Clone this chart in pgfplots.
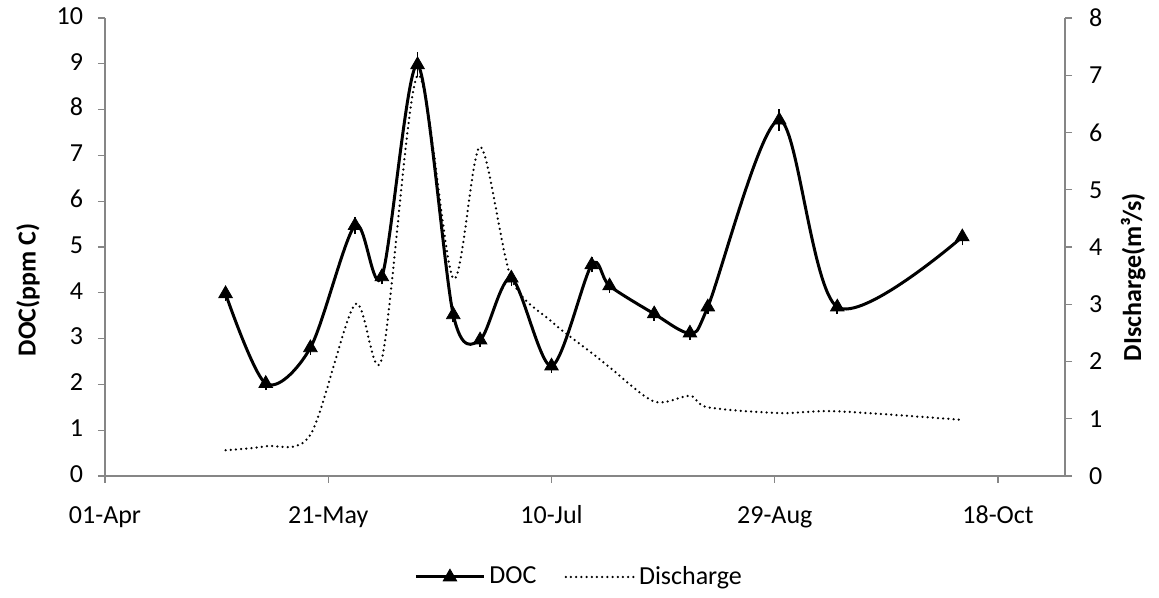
\documentclass[border=0pt]{standalone}
\usepackage{fontspec}
\setmainfont{Carlito}
\usepackage{pgfplots}
\usepackage{pgfplotstable}
\pgfplotsset{compat=1.18}
\definecolor{axisgray}{HTML}{868686}

\begin{document}
\fontsize{13pt}{15.6pt}\selectfont
\begin{tikzpicture}
\useasboundingbox (-52.5pt,-61pt) rectangle (527pt,238pt);
\pgfplotsset{
  every axis/.append style={
    scale only axis, width=480pt, height=229pt,
    xmin=0, xmax=215,
    axis line style={axisgray, line width=0.6pt},
    every tick/.style={axisgray, line width=0.6pt},
    tick align=outside, major tick length=3.5pt,
    /pgf/number format/assume math mode=true,
    clip=false,
    legend image code/.code={
      \draw[mark repeat=2, mark phase=2, #1]
        plot coordinates {(0pt,0pt) (17pt,0pt) (34pt,0pt)};},
  },
  docmark/.style={mark=triangle*, mark size=3.9pt,
    mark options={solid, fill=black, draw=black, line width=0.4pt}},
}
% DOC concentration, left axis (days counted from 01-Apr)
\pgfplotstableread{
day doc err
27  3.98 0.04
36  2.02 0.03
46  2.80 0.04
56  5.47 0.07
62  4.35 0.05
70  8.98 0.16
78  3.52 0.05
84  2.97 0.04
91  4.32 0.05
100 2.40 0.03
109 4.61 0.05
113 4.15 0.04
123 3.54 0.04
131 3.12 0.04
135 3.69 0.05
151 7.77 0.12
164 3.69 0.04
192 5.22 0.07
}\doctable
\begin{axis}[
  axis x line*=bottom, axis y line*=left,
  ymin=0, ymax=10, ytick={0,1,...,10},
  xtick={0,50,100,150,200},
  xticklabels={01-Apr,21-May,10-Jul,29-Aug,18-Oct},
  typeset ticklabels with strut,
  xticklabel style={yshift=-5pt},
  yticklabel style={xshift=-3pt},
  every axis y label/.style={at={(axis description cs:-0.0802,0.406)},
    rotate=90, anchor=center, font=\bfseries},
  ylabel={DOC(ppm C)},
]
\addplot[black, line width=1.5pt, smooth, tension=0.5, no markers,
  error bars/.cd, y dir=both, y explicit,
  error bar style={black, line width=0.8pt},
  error mark options={black, mark size=2.6pt, line width=0.8pt}]
  table[x=day, y=doc, y error=err] {\doctable};
% markers drawn on top of the error bars
\addplot[only marks, docmark, forget plot] table[x=day, y=doc] {\doctable};
\end{axis}
% Discharge, right axis
\begin{axis}[
  axis y line*=right, axis x line=none,
  ymin=0, ymax=8, ytick={0,1,...,8},
  yticklabel style={xshift=4pt},
  every axis y label/.style={at={(axis description cs:1.071,0.4345)},
    rotate=90, anchor=center, font=\bfseries},
  ylabel={DIscharge(m³/s)},
  legend style={at={(axis description cs:0.495,-0.2205)}, anchor=center,
    draw=none, fill=none, legend columns=-1,
    /tikz/every even column/.append style={column sep=12pt}},
]
\addlegendimage{black, line width=1.5pt, docmark}
\addlegendentry{DOC}
\addplot[black, line width=1.25pt, line cap=round, dash pattern=on 0pt off 2.6pt,
  smooth, tension=0.5]
  coordinates {
  (27,0.45) (36,0.52) (46,0.72) (56,3.00) (62,2.05) (70,7.00)
  (78,3.45) (84,5.75) (91,3.45) (100,2.70) (109,2.15) (113,1.90)
  (123,1.30) (131,1.40) (135,1.20) (151,1.10) (164,1.13) (192,0.98)
  };
\addlegendentry{Discharge}
\end{axis}
\end{tikzpicture}
\end{document}
